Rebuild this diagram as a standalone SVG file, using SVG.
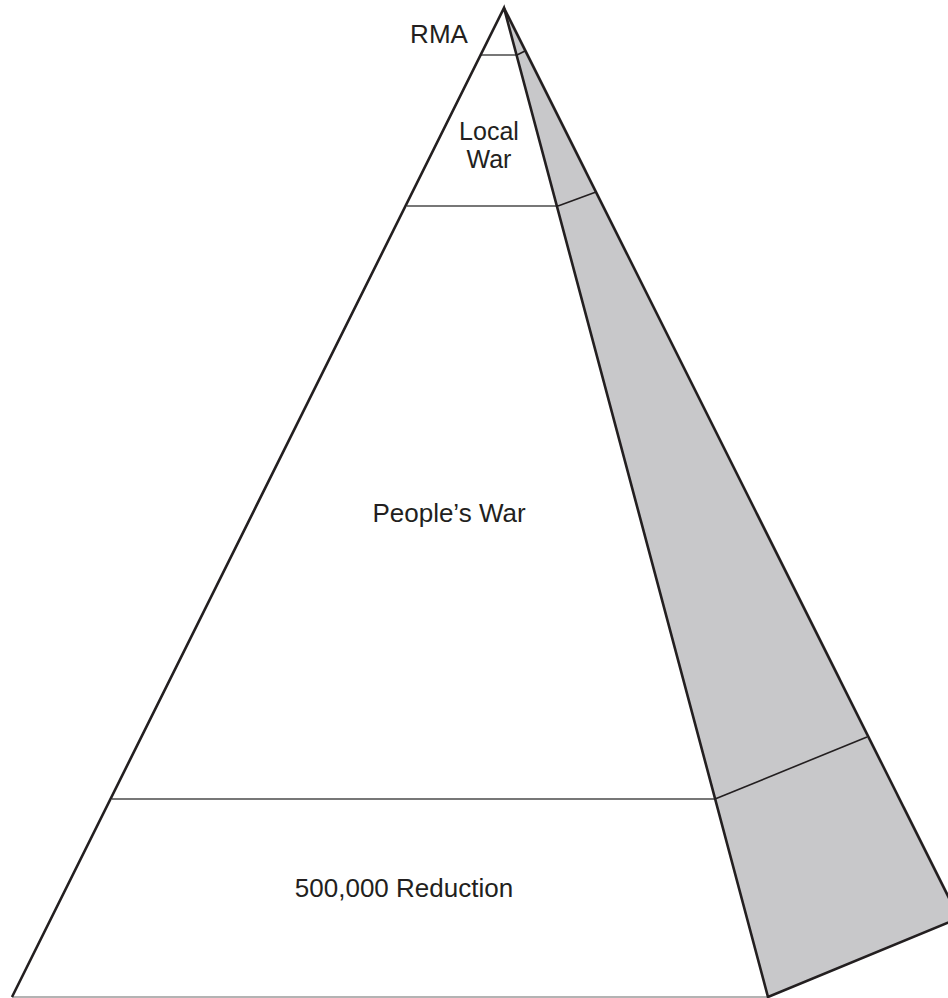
<svg xmlns="http://www.w3.org/2000/svg" width="948" height="998" viewBox="0 0 948 998">
<style>
.edge{fill:none;stroke:#231f20;stroke-width:2.6;stroke-linejoin:miter}
.div{fill:none;stroke:#4a4a4a;stroke-width:1.4}
.bdiv{fill:none;stroke:#231f20;stroke-width:1.6}
.lbl{font-family:"Liberation Sans",Arial,sans-serif;font-size:26px;fill:#231f20;text-anchor:middle}
.sm{font-size:25px}
</style>
<rect width="948" height="998" fill="#ffffff"/>
<g id="side-face">
<polygon points="504,8 768,997 959,918" fill="#c8c8ca"/>
</g>
<g id="connectors">
<line class="div" x1="481" y1="55" x2="517" y2="55"/>
<line class="div" x1="407" y1="206" x2="558" y2="206"/>
<line class="div" x1="112" y1="799" x2="715" y2="799"/>
<line x1="12" y1="997" x2="768" y2="997" stroke="#9a9a9a" stroke-width="1.6"/>
<line class="bdiv" x1="517" y1="55" x2="525" y2="51"/>
<line class="bdiv" x1="558" y1="206" x2="596" y2="192"/>
<line class="bdiv" x1="715" y1="799" x2="867" y2="737"/>
<polyline class="edge" points="12,997 504,8 768,997 959,918"/>
<line class="edge" x1="504" y1="8" x2="959" y2="918"/>
</g>
<g id="node-rma"><text class="lbl" x="439" y="43">RMA</text></g>
<g id="node-local-war"><text class="lbl sm" x="489" y="140">Local</text><text class="lbl sm" x="489" y="168">War</text></g>
<g id="node-peoples-war"><text class="lbl" x="449" y="522">People’s War</text></g>
<g id="node-reduction"><text class="lbl" x="404" y="897">500,000 Reduction</text></g>
</svg>
